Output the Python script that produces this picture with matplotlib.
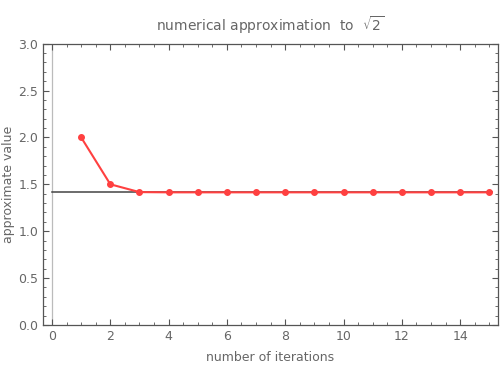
import matplotlib
matplotlib.use('Agg')
import matplotlib.pyplot as plt
from matplotlib.ticker import MultipleLocator

# Newton iterations for sqrt(2)
iterations = [1, 2, 3, 4, 5, 6, 7, 8, 9, 10, 11, 12, 13, 14, 15]
approx = [2.0, 1.5, 1.41667, 1.414216, 1.414214, 1.414214, 1.414214, 1.414214,
          1.414214, 1.414214, 1.414214, 1.414214, 1.414214, 1.414214, 1.414214]
target = 2 ** 0.5
target_span = [0, 15.1]

txt = '#666666'
ax_col = '#555555'
plt.rcParams['mathtext.fontset'] = 'dejavusans'

fig = plt.figure(figsize=(5, 3.8), dpi=100)
ax = fig.add_axes([0.086, 0.145, 0.91, 0.74])

ax.plot(target_span, [target, target], color='#444444', lw=1.1, zorder=2)
ax.plot(iterations, approx, color='#ff4040', lw=1.5, marker='o', ms=4,
        zorder=3, clip_on=False)
ax.axvline(0, color='#bbbbbb', lw=0.9, zorder=1)

ax.set_xlim(-0.31, 15.3)
ax.set_ylim(0, 3.0)
ax.xaxis.set_major_locator(MultipleLocator(2))
ax.xaxis.set_minor_locator(MultipleLocator(0.5))
ax.yaxis.set_major_locator(MultipleLocator(0.5))
ax.yaxis.set_minor_locator(MultipleLocator(0.1))
ax.yaxis.set_major_formatter(plt.FormatStrFormatter('%.1f'))

ax.tick_params(which='both', direction='in', top=True, right=True,
               color=ax_col, labelcolor=txt, labelsize=9)
ax.tick_params(which='major', length=4, width=0.8)
ax.tick_params(which='minor', length=2, width=0.6)
for s in ax.spines.values():
    s.set_color(ax_col)
    s.set_linewidth(0.9)

ax.set_xlabel('number of iterations', color=txt, fontsize=9, labelpad=6)
ax.set_ylabel('approximate value', color=txt, fontsize=9)
ax.yaxis.set_label_coords(-0.062, 0.5)
ax.set_title(r'numerical approximation  to  $\sqrt{2}$', color=txt,
             fontsize=10, pad=9)

fig.savefig('out.png', dpi=100)
